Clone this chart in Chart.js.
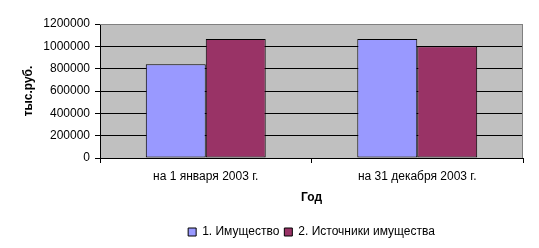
<!DOCTYPE html>
<html>
<head>
    <title>Имущество и источники</title>
    <script src="https://cdn.jsdelivr.net/npm/chart.js"></script>
    <style>
        body { margin: 0; background: #fff; }
        #wrap { width: 539px; height: 248px; }
    </style>
</head>
<body>
<div id="wrap"><canvas id="assetChart" width="539" height="248"></canvas></div>

<script>
const categories = ['на 1 января 2003 г.', 'на 31 декабря 2003 г.'];
const seriesNames = ['1. Имущество', '2. Источники имущества'];
const propertyValues = [840000, 1065000];
const sourceValues = [1065000, 1000000];
const yTicks = [0, 200000, 400000, 600000, 800000, 1000000, 1200000];

// серый фон области построения и серая рамка сверху/справа, как в Excel
const plotBackground = {
    id: 'plotBackground',
    afterLayout(chart) {
        // легенда центрируется под областью построения, а не под всем холстом
        const lg = chart.legend, a = chart.chartArea;
        if (!lg) return;
        const shift = (a.left + a.right) / 2 - (lg.left + lg.right) / 2;
        lg.left += shift;
        lg.right += shift;
    },
    beforeDraw(chart) {
        const a = chart.chartArea, c = chart.ctx;
        c.save();
        c.fillStyle = '#C0C0C0';
        c.fillRect(a.left, a.top, a.right - a.left, a.bottom - a.top);
        c.restore();
    },
    beforeDatasetsDraw(chart) {
        const a = chart.chartArea, c = chart.ctx;
        c.save();
        c.strokeStyle = '#808080';
        c.lineWidth = 1;
        c.beginPath();
        c.moveTo(a.left, a.top + 0.5);
        c.lineTo(a.right - 0.5, a.top + 0.5);
        c.lineTo(a.right - 0.5, a.bottom);
        c.stroke();
        c.restore();
    }
};

document.addEventListener("DOMContentLoaded", function() {
    const ctx = document.getElementById('assetChart').getContext('2d');
    Chart.defaults.font.family = '"Liberation Sans", Arial, sans-serif';
    Chart.defaults.font.size = 12;
    Chart.defaults.color = '#000';

    new Chart(ctx, {
        type: 'bar',
        data: {
            labels: categories,
            datasets: [{
                label: seriesNames[0],
                data: propertyValues,
                backgroundColor: '#9999FF',
                borderColor: '#000',
                borderWidth: 1,
                borderSkipped: false
            }, {
                label: seriesNames[1],
                data: sourceValues,
                backgroundColor: '#993366',
                borderColor: '#000',
                borderWidth: 1,
                borderSkipped: false
            }]
        },
        options: {
            responsive: false,
            animation: false,
            layout: { padding: { left: 0, right: 16, top: 24, bottom: 0 } },
            datasets: { bar: { barPercentage: 1, categoryPercentage: 0.567 } },
            scales: {
                x: {
                    grid: { offset: true, drawOnChartArea: false, tickLength: 5, color: '#000' },
                    border: { color: '#000' },
                    ticks: { padding: 6, maxRotation: 0 },
                    title: { display: true, text: 'Год', font: { weight: 'bold' }, padding: { top: 0, bottom: 16 } },
                    afterFit: s => { s.height = 63; }
                },
                y: {
                    min: 0,
                    max: 1200000,
                    afterBuildTicks: s => { s.ticks = yTicks.map(v => ({ value: v })); },
                    grid: {
                        color: c => c.tick && c.tick.value === 1200000 ? '#808080' : '#000',
                        tickColor: '#000',
                        tickLength: 5
                    },
                    border: { color: '#000' },
                    ticks: { padding: 5, callback: v => String(v) },
                    title: { display: true, text: 'тыс.руб.', font: { weight: 'bold' }, padding: { top: 21, bottom: 0 } },
                    afterFit: s => { s.width = 100; }
                }
            },
            plugins: {
                legend: {
                    position: 'bottom',
                    labels: {
                        boxWidth: 8,
                        boxHeight: 8,
                        padding: 5,
                        color: '#000'
                    }
                },
                tooltip: { enabled: false }
            }
        },
        plugins: [plotBackground]
    });
});
</script>
</body>
</html>
